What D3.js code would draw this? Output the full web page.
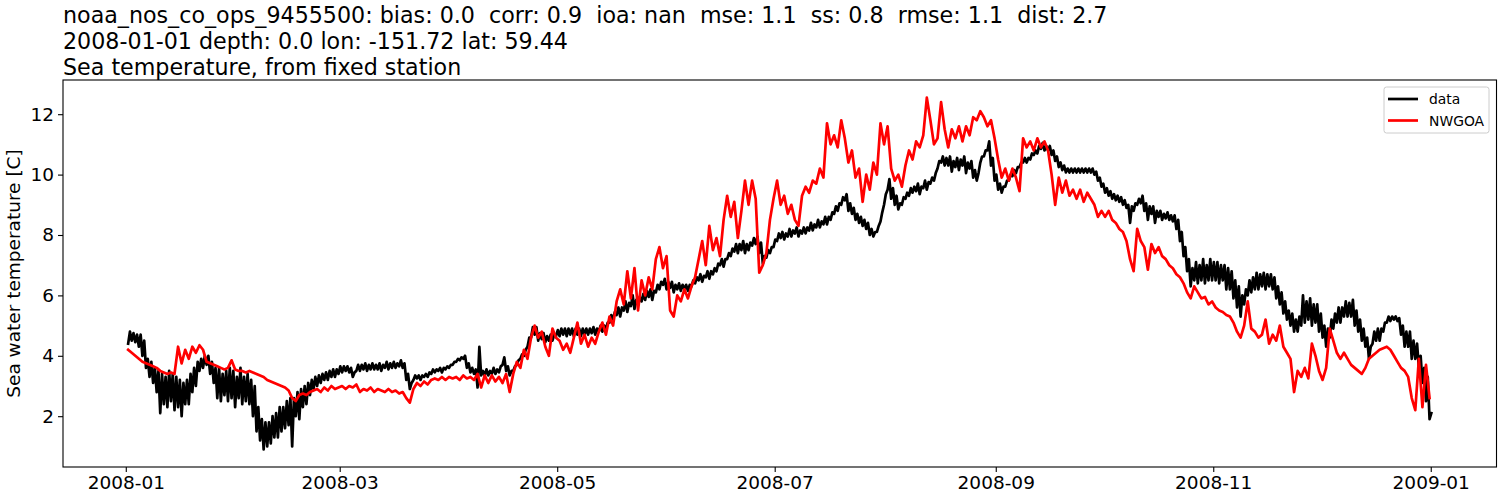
<!DOCTYPE html>
<html>
<head>
<meta charset="utf-8">
<script src="https://cdn.jsdelivr.net/npm/d3@7"></script>
<style>
  html, body { margin: 0; padding: 0; background: #fff; }
  svg { display: block; font-family: "DejaVu Sans", sans-serif; }
  text { white-space: pre; }
</style>
</head>
<body>
<svg id="chart" width="1500" height="500"></svg>
<script>
// ---- Data ----
// observations: two readings per day (first reading, then half a day later)
const startTime = "2008-01-01T16:00:00";
const titleLines = [
  "noaa_nos_co_ops_9455500: bias: 0.0  corr: 0.9  ioa: nan  mse: 1.1  ss: 0.8  rmse: 1.1  dist: 2.7",
  "2008-01-01 depth: 0.0 lon: -151.72 lat: 59.44",
  "Sea temperature, from fixed station"
];
const yLabel = "Sea water temperature [C]";
const seriesNames = ["data", "NWGOA"];
const seriesColors = ["#000000", "#ff0000"];
const yTicks = [2, 4, 6, 8, 10, 12];
const xTicks = ["2008-01-01", "2008-03-01", "2008-05-01", "2008-07-01", "2008-09-01", "2008-11-01", "2009-01-01"];

const obsFirst = [
 4.4,4.5,4.45,4.3,4.0,3.6,3.3,3.1,2.8,2.1,
 2.4,2.3,2.5,2.2,2.3,2.0,2.4,2.4,2.8,3.0,
 3.5,3.6,3.7,3.4,3.1,2.6,2.5,2.7,2.5,2.6,
 2.3,2.6,2.4,2.5,2.4,2.0,1.5,1.2,0.9,1.0,
 1.1,1.3,1.3,1.5,1.6,1.7,1.0,2.0,1.9,2.3,
 2.4,2.7,2.9,3.0,3.1,3.2,3.2,3.3,3.3,3.4,
 3.45,3.5,3.45,3.3,3.5,3.5,3.55,3.5,3.55,3.55,
 3.55,3.5,3.6,3.55,3.6,3.6,3.65,3.6,3.2,2.9,
 3.2,3.25,3.2,3.3,3.3,3.4,3.45,3.5,3.45,3.55,
 3.6,3.7,3.8,3.85,3.9,3.6,3.45,3.4,2.95,3.35,
 3.35,3.35,3.4,3.4,3.45,3.7,3.5,3.35,3.5,3.7,
 3.9,4.0,4.3,4.6,4.7,4.5,4.55,4.45,4.5,4.5,
 4.65,4.65,4.7,4.65,4.7,4.65,4.7,4.65,4.7,4.7,
 4.75,4.7,4.8,4.8,4.9,5.1,5.2,5.35,5.3,5.5,
 5.45,5.65,5.55,5.7,5.8,5.85,5.95,5.85,6.1,6.2,
 6.35,6.2,6.25,6.1,6.2,6.15,6.2,6.15,6.3,6.4,
 6.5,6.45,6.6,6.55,6.7,6.8,7.0,6.95,7.2,7.3,
 7.45,7.4,7.5,7.4,7.5,7.65,7.7,7.4,7.05,7.25,
 7.4,7.6,7.8,7.9,7.85,7.95,7.95,8.05,7.95,8.05,
 8.05,8.15,8.15,8.25,8.25,8.35,8.35,8.5,8.7,8.8,
 9.0,9.15,8.8,8.7,8.5,8.4,8.3,8.2,8.0,7.95,
 8.1,8.45,9.0,9.5,9.2,9.0,8.85,9.0,9.2,9.3,
 9.4,9.45,9.35,9.55,9.5,9.7,9.8,10.2,10.4,10.3,
 10.3,10.1,10.25,10.15,10.3,10.05,10.2,9.9,9.8,10.4,
 10.6,10.8,10.3,9.8,9.5,9.4,9.6,9.8,9.95,10.05,
 10.25,10.4,10.4,10.5,10.65,10.7,10.85,10.8,10.8,10.65,
 10.45,10.25,10.15,10.07,10.07,10.07,10.07,10.07,10.07,10.07,
 10.07,10.0,9.8,9.6,9.4,9.3,9.2,9.15,9.1,9.0,
 8.9,8.4,8.8,9.0,9.05,8.8,8.5,8.7,8.4,8.6,
 8.5,8.55,8.5,8.45,8.2,7.8,7.3,6.8,6.3,6.5,
 6.4,6.5,6.4,6.5,6.5,6.5,6.4,6.5,6.2,6.2,
 5.9,5.6,5.3,5.7,6.0,6.1,6.2,6.2,6.3,6.2,
 6.3,6.2,5.9,5.7,5.4,5.2,5.0,4.8,4.8,5.0,
 5.1,5.2,5.0,5.1,4.8,4.6,4.3,4.6,4.9,5.1,
 5.1,5.3,5.3,5.3,5.0,4.8,4.5,4.3,3.9,4.4,
 4.5,4.5,4.8,5.1,5.15,5.2,5.15,4.7,4.3,4.3,
 3.9,3.9,3.6,3.1,2.5,1.9
];

const obsSecond = [
 4.8,4.75,4.7,4.7,4.5,3.9,3.8,3.6,3.5,3.4,
 3.3,3.5,3.4,3.3,3.2,3.1,3.2,3.4,3.6,3.8,
 3.9,4.0,4.0,3.8,3.6,3.6,3.4,3.5,3.6,3.5,
 3.3,3.6,3.3,3.4,3.2,3.0,2.3,1.9,1.8,1.8,
 2.0,2.1,2.3,2.3,2.5,2.6,2.6,2.8,2.9,3.0,
 3.1,3.2,3.3,3.35,3.4,3.45,3.5,3.55,3.55,3.65,
 3.65,3.65,3.6,3.45,3.7,3.7,3.75,3.7,3.75,3.7,
 3.75,3.7,3.8,3.75,3.8,3.75,3.85,3.75,3.4,3.1,
 3.35,3.35,3.35,3.4,3.45,3.55,3.55,3.6,3.6,3.65,
 3.7,3.8,3.9,3.95,4.0,3.75,3.6,3.55,4.3,3.5,
 3.55,3.5,3.6,3.55,3.65,3.95,3.65,3.5,3.65,3.85,
 4.05,4.2,4.6,4.95,4.95,4.75,4.75,4.65,4.7,4.7,
 4.85,4.9,4.9,4.9,4.9,4.9,4.9,4.9,4.9,4.9,
 4.95,4.9,5.0,5.0,5.1,5.35,5.45,5.6,5.6,5.8,
 5.75,6.0,5.85,5.95,6.05,6.15,6.2,6.15,6.35,6.45,
 6.55,6.45,6.45,6.35,6.4,6.35,6.35,6.35,6.5,6.6,
 6.7,6.65,6.8,6.8,6.9,7.05,7.2,7.2,7.4,7.55,
 7.7,7.7,7.8,7.7,7.75,7.9,7.95,7.75,7.3,7.5,
 7.6,7.85,8.05,8.1,8.05,8.2,8.15,8.25,8.15,8.25,
 8.25,8.4,8.35,8.5,8.45,8.6,8.6,8.75,8.95,9.05,
 9.25,9.35,9.05,8.9,8.7,8.6,8.5,8.4,8.2,8.1,
 8.3,8.75,9.35,9.85,9.55,9.3,9.05,9.25,9.4,9.55,
 9.6,9.7,9.6,9.8,9.75,9.9,10.05,10.45,10.6,10.55,
 10.6,10.45,10.55,10.5,10.6,10.4,10.45,10.15,10.05,10.6,
 10.8,11.1,10.55,10.0,9.7,9.6,9.8,10.0,10.15,10.25,
 10.4,10.55,10.55,10.7,10.8,10.95,11.05,10.95,10.95,10.8,
 10.6,10.4,10.3,10.2,10.2,10.2,10.2,10.2,10.2,10.2,
 10.2,10.1,9.9,9.7,9.55,9.45,9.35,9.3,9.25,9.15,
 9.0,8.95,9.05,9.2,9.3,9.05,8.95,8.95,8.8,8.8,
 8.7,8.75,8.65,8.65,8.5,8.1,7.6,7.2,6.9,7.1,
 7.0,7.2,7.0,7.2,7.1,7.1,7.0,7.0,6.9,6.8,
 6.5,6.3,6.0,6.2,6.5,6.6,6.75,6.7,6.75,6.7,
 6.7,6.6,6.3,6.1,5.8,5.5,5.4,5.2,5.3,6.0,
 5.8,5.9,5.7,5.7,5.4,5.0,4.9,5.2,5.4,5.6,
 5.6,5.8,5.75,5.85,5.5,5.2,4.9,4.6,4.3,4.8,
 4.9,4.9,5.1,5.3,5.3,5.3,5.25,5.0,4.8,4.8,
 4.5,4.4,4.0,3.6,3.3,2.1
];

// model: one value per day
const model = [
 4.2,4.1,4.0,3.9,3.8,3.75,3.7,3.65,3.6,3.5,
 3.45,3.4,3.45,3.4,4.3,3.75,4.2,3.9,4.3,4.1,
 4.35,4.2,3.8,3.75,3.7,3.65,3.6,3.55,3.6,3.85,
 3.55,3.5,3.5,3.45,3.5,3.45,3.4,3.35,3.3,3.2,
 3.15,3.1,3.05,3.0,2.95,2.85,2.6,2.5,2.7,2.75,
 2.7,2.8,2.85,2.9,2.8,2.95,2.85,3.0,2.9,2.95,
 3.0,2.9,3.0,2.95,3.05,2.8,2.9,2.85,2.95,2.8,
 2.9,2.85,2.8,2.9,2.8,2.85,2.75,2.8,2.6,2.45,
 2.9,3.1,3.0,3.15,3.05,3.2,3.25,3.2,3.3,3.2,
 3.3,3.25,3.3,3.2,3.35,3.25,3.3,3.2,3.4,2.95,
 3.35,3.1,3.35,3.15,3.3,3.1,3.4,2.8,3.4,3.8,
 3.6,4.2,3.9,4.6,5.0,4.6,4.8,4.3,4.0,4.9,
 4.6,4.5,4.2,4.4,4.1,4.6,5.1,4.4,4.7,4.3,
 4.6,4.4,4.8,5.1,4.7,5.3,5.0,5.8,6.2,5.7,
 6.8,5.9,6.9,5.5,6.5,6.0,6.6,6.2,7.2,7.6,
 6.9,7.3,5.5,5.3,6.0,5.8,6.2,5.9,6.3,6.6,
 7.2,7.8,7.0,8.3,7.5,7.9,7.3,8.5,9.3,8.6,
 9.1,7.9,8.8,9.8,9.0,9.8,9.2,6.75,7.0,7.4,
 8.5,9.2,9.8,9.0,9.3,8.7,9.0,8.5,8.3,9.3,
 9.6,9.4,9.8,9.7,10.2,9.9,11.7,11.0,11.3,10.9,
 11.8,11.2,10.4,10.8,9.9,10.2,9.1,10.0,9.5,10.4,
 10.0,11.7,11.0,11.6,10.2,9.8,10.0,9.6,10.3,10.8,
 10.5,11.1,10.9,11.3,12.55,11.8,11.0,11.2,12.4,11.5,
 10.9,11.5,11.2,11.6,11.1,11.6,11.3,11.9,11.8,12.1,
 11.9,11.6,11.8,11.2,10.5,9.9,10.2,9.8,10.2,9.9,
 9.45,11.2,10.9,11.1,10.8,11.2,10.9,11.1,10.8,10.0,
 9.0,9.9,9.4,9.8,9.3,9.5,9.2,9.5,9.1,9.4,
 9.2,9.0,8.6,8.8,8.6,8.8,8.5,8.4,8.2,8.1,
 7.8,7.2,6.8,8.2,7.8,7.6,6.85,7.7,7.4,7.6,
 7.3,7.2,7.0,6.9,6.7,6.6,6.4,6.1,5.9,6.3,
 6.1,5.9,5.95,5.7,5.8,5.6,5.5,5.45,5.35,5.3,
 5.1,4.8,4.6,5.0,5.8,4.9,4.8,4.6,4.7,5.2,
 4.4,4.7,4.5,5.0,4.3,4.1,3.9,2.8,3.5,3.3,
 3.6,3.25,4.4,4.0,3.5,3.2,3.6,4.9,4.5,4.1,
 3.9,4.1,3.9,3.7,3.6,3.5,3.4,3.6,3.9,4.0,
 4.1,4.2,4.25,4.3,4.2,4.0,3.8,3.6,3.5,3.3,
 2.6,2.2,3.9,2.3,3.7,2.6
];

// ---- Layout ----
const W = 1500, H = 500;
const margin = { left: 63, right: 3.5, top: 80, bottom: 33 };
const plotW = W - margin.left - margin.right;
const plotH = H - margin.top - margin.bottom;

const svg = d3.select("#chart");
const t0 = new Date(startTime);
const dayMs = 86400000;
const toDate = dd => new Date(t0.getTime() + dd * dayMs);

const obsData = obsFirst.flatMap((v, i) => [
  { t: toDate(i), v },
  { t: toDate(i + 0.5), v: obsSecond[i] }
]);
const modelData = model.map((v, i) => ({ t: toDate(i), v }));

// matplotlib-like 5% margins
const tExt = d3.extent(obsData.concat(modelData), d => d.t);
const tPad = (tExt[1] - tExt[0]) * 0.05;
const x = d3.scaleTime()
  .domain([new Date(+tExt[0] - tPad), new Date(+tExt[1] + tPad)])
  .range([margin.left, margin.left + plotW]);

const vExt = d3.extent(obsFirst.concat(obsSecond, model));
const vPad = (vExt[1] - vExt[0]) * 0.05;
const y = d3.scaleLinear()
  .domain([vExt[0] - vPad, vExt[1] + vPad])
  .range([margin.top + plotH, margin.top]);

// Title
const title = svg.append("g");
const titleBaselines = [22.7, 49.2, 75];
titleLines.forEach((s, i) => {
  title.append("text")
    .attr("x", margin.left).attr("y", titleBaselines[i])
    .attr("font-size", 22.2).attr("fill", "#000")
    .text(s);
});

// clip
svg.append("clipPath").attr("id", "clip").append("rect")
  .attr("x", margin.left).attr("y", margin.top).attr("width", plotW).attr("height", plotH);

const line = d3.line().x(d => x(d.t)).y(d => y(d.v));

const g = svg.append("g").attr("clip-path", "url(#clip)");
[obsData, modelData].forEach((data, i) => {
  g.append("path").datum(data)
    .attr("fill", "none")
    .attr("stroke", seriesColors[i])
    .attr("stroke-width", 2.7)
    .attr("stroke-linejoin", "round")
    .attr("stroke-linecap", "square")
    .attr("d", line);
});

// Axes
const xAxis = d3.axisBottom(x)
  .tickValues(xTicks.map(s => new Date(s + "T00:00:00")))
  .tickFormat(d3.timeFormat("%Y-%m"))
  .tickSize(5).tickPadding(4);
const yAxis = d3.axisLeft(y)
  .tickValues(yTicks).tickFormat(d3.format("d"))
  .tickSize(5).tickPadding(4);

const gx = svg.append("g").attr("transform", `translate(0,${margin.top + plotH})`).call(xAxis);
const gy = svg.append("g").attr("transform", `translate(${margin.left},0)`).call(yAxis);
[gx, gy].forEach(ax => {
  ax.select(".domain").remove();
  ax.selectAll(".tick line").attr("stroke", "#000").attr("stroke-width", 1.1);
  ax.selectAll(".tick text").attr("font-size", 18.5).attr("fill", "#000")
    .attr("font-family", "DejaVu Sans, sans-serif");
});

// Frame
svg.append("rect")
  .attr("x", margin.left).attr("y", margin.top)
  .attr("width", plotW).attr("height", plotH)
  .attr("fill", "none").attr("stroke", "#000").attr("stroke-width", 1.1);

// Y label
svg.append("text")
  .attr("transform", `translate(19.5,${margin.top + plotH / 2}) rotate(-90)`)
  .attr("text-anchor", "middle")
  .attr("font-size", 18.5).attr("fill", "#000")
  .text(yLabel);

// Legend
const lg = svg.append("g");
const lgX = 1384, lgY = 87;
lg.append("rect")
  .attr("x", lgX).attr("y", lgY).attr("width", 105).attr("height", 46)
  .attr("rx", 2.5).attr("fill", "#fff").attr("fill-opacity", 0.8)
  .attr("stroke", "#cccccc").attr("stroke-width", 1);
seriesNames.forEach((name, i) => {
  const yy = lgY + 12 + i * 21.5;
  lg.append("line")
    .attr("x1", lgX + 4).attr("x2", lgX + 34)
    .attr("y1", yy).attr("y2", yy)
    .attr("stroke", seriesColors[i]).attr("stroke-width", 2.7);
  lg.append("text")
    .attr("x", lgX + 45).attr("y", yy + 5)
    .attr("font-size", 13.9).attr("fill", "#000")
    .text(name);
});
</script>
</body>
</html>
